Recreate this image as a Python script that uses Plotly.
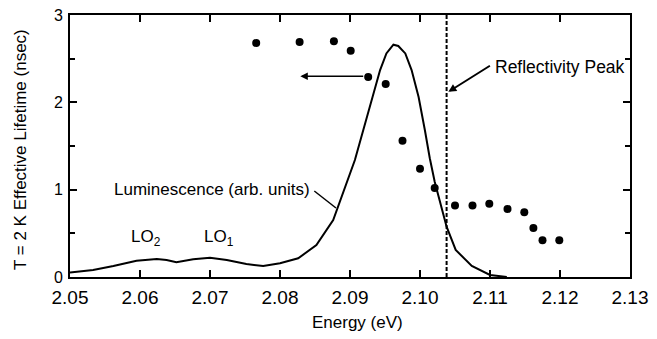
import plotly.graph_objects as go

# Luminescence spectrum (arb. units) digitized
lum_energy = [2.0500, 2.0533, 2.0562, 2.0595, 2.0624, 2.0638, 2.0652, 2.0676, 2.0700,
              2.0724, 2.0752, 2.0776, 2.0800, 2.0826, 2.0852, 2.0876, 2.0907, 2.0919,
              2.0933, 2.0943, 2.0952, 2.0962, 2.0969, 2.0979, 2.0988, 2.0998, 2.1007,
              2.1014, 2.1021, 2.1038, 2.1051, 2.1074, 2.1100, 2.1124]
lum_intensity = [0.05, 0.08, 0.126, 0.187, 0.206, 0.195, 0.168, 0.203, 0.221,
                 0.195, 0.149, 0.126, 0.157, 0.214, 0.366, 0.653, 1.34, 1.68,
                 2.06, 2.37, 2.56, 2.66, 2.645, 2.56, 2.37, 2.06, 1.68,
                 1.36, 1.09, 0.576, 0.31, 0.126, 0.023, 0.0]

# Effective lifetime data (nsec)
life_energy = [2.0766, 2.0828, 2.0877, 2.0901, 2.0926, 2.0951, 2.0975, 2.1000, 2.1021,
               2.1050, 2.1075, 2.1099, 2.1125, 2.1149, 2.1162, 2.1175, 2.1199]
life_ns = [2.68, 2.69, 2.70, 2.59, 2.29, 2.21, 1.56, 1.24, 1.02,
           0.82, 0.82, 0.84, 0.78, 0.74, 0.56, 0.42, 0.42]

reflectivity_peak = 2.1038

x_ticks = [2.05, 2.06, 2.07, 2.08, 2.09, 2.10, 2.11, 2.12, 2.13]
x_ticktext = ["2.05", "2.06", "2.07", "2.08", "2.09", "2.10", "2.11", "2.12", "2.13"]
y_ticks = [0, 1, 2, 3]

FONT = "Arial, Liberation Sans, sans-serif"

fig = go.Figure()
fig.add_trace(go.Scatter(x=lum_energy, y=lum_intensity, mode="lines",
                         line=dict(color="black", width=2), showlegend=False))
fig.add_trace(go.Scatter(x=life_energy, y=life_ns, mode="markers",
                         marker=dict(color="black", size=8), showlegend=False))

fig.add_shape(type="line", x0=reflectivity_peak, x1=reflectivity_peak, y0=0, y1=3,
              xref="x", yref="y", line=dict(color="black", width=2, dash="4px,2px"))
# leader line from luminescence label to curve
fig.add_shape(type="line", x0=2.0849, y0=0.985, x1=2.0880, y1=0.79,
              xref="x", yref="y", line=dict(color="black", width=1.5))

annotations = [
    dict(x=2.0829, y=2.30, ax=2.0921, ay=2.30, xref="x", yref="y", axref="x", ayref="y",
         text="", showarrow=True, arrowhead=2, arrowsize=1, arrowwidth=1.5, arrowcolor="black"),
    dict(x=2.10405, y=2.12, ax=2.1102, ay=2.43, xref="x", yref="y", axref="x", ayref="y",
         text="", showarrow=True, arrowhead=2, arrowsize=0.8, arrowwidth=2, arrowcolor="black"),
    dict(x=2.1104, y=2.41, xref="x", yref="y", text="Reflectivity Peak", showarrow=False,
         xanchor="left", yanchor="middle", font=dict(size=17.5, color="black", family=FONT)),
    dict(x=2.0846, y=1.00, xref="x", yref="y", text="Luminescence (arb. units)", showarrow=False,
         xanchor="right", yanchor="middle", font=dict(size=17, color="black", family=FONT)),
    dict(x=2.0609, y=0.45, xref="x", yref="y", text="LO<sub>2</sub>", showarrow=False,
         xanchor="center", yanchor="middle", font=dict(size=17, color="black", family=FONT)),
    dict(x=2.0713, y=0.45, xref="x", yref="y", text="LO<sub>1</sub>", showarrow=False,
         xanchor="center", yanchor="middle", font=dict(size=17, color="black", family=FONT)),
    dict(x=-0.0893, y=0.4885, xref="paper", yref="paper", text="T = 2 K Effective Lifetime (nsec)",
         showarrow=False, textangle=-90, xanchor="center", yanchor="middle",
         font=dict(size=17, color="black", family=FONT)),
    dict(x=0.5125, y=-0.172, xref="paper", yref="paper", text="Energy (eV)", showarrow=False,
         xanchor="center", yanchor="middle", font=dict(size=17, color="black", family=FONT)),
]

fig.update_layout(
    width=657, height=339,
    margin=dict(l=70, r=27, t=15, b=62),
    paper_bgcolor="white", plot_bgcolor="white",
    annotations=annotations,
    font=dict(family=FONT, color="black"),
)
fig.update_xaxes(range=[2.05, 2.13], tickvals=x_ticks, ticktext=x_ticktext, automargin=False,
                 showgrid=False, zeroline=False, showline=True, linecolor="black", linewidth=2,
                 mirror="ticks", ticks="inside", ticklen=7, tickwidth=1.5, tickcolor="black",
                 tickfont=dict(size=19, family=FONT, color="black"), ticklabelstandoff=2)
fig.update_yaxes(range=[0, 3], tickvals=y_ticks, showgrid=False, zeroline=False, automargin=False,
                 showline=True, linecolor="black", linewidth=2, mirror="ticks",
                 ticks="inside", ticklen=7, tickwidth=1.5, tickcolor="black",
                 minor=dict(dtick=0.5, ticks="inside", ticklen=5, tickwidth=1.5, tickcolor="black"),
                 tickfont=dict(size=16, family=FONT, color="black"), ticklabelstandoff=2)

fig.write_html("out.html", config={"displayModeBar": False},
               post_script="document.body.style.margin='0';")
